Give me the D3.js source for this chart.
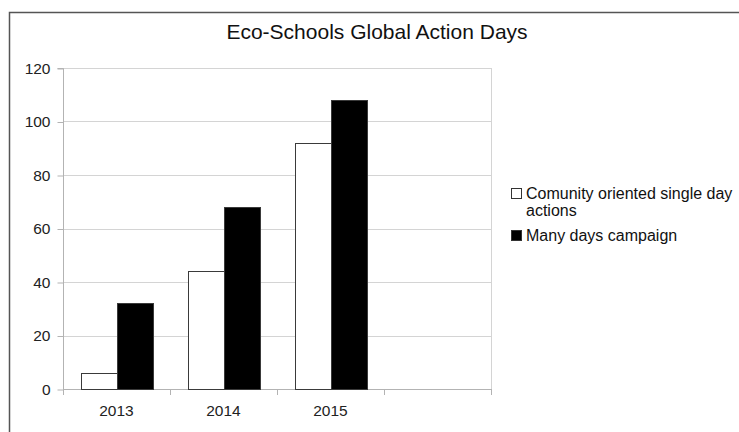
<!DOCTYPE html>
<html>
<head>
<meta charset="utf-8">
<script src="https://cdn.jsdelivr.net/npm/d3@7"></script>
<style>
  body { margin: 0; background: #fff; }
  svg { display: block; font-family: "Liberation Sans", Arial, sans-serif; }
</style>
</head>
<body>
<div id="chart"></div>
<script>
var years = ["2013", "2014", "2015", ""];
var seriesNames = ["Comunity oriented single day actions", "Many days campaign"];
var community = [6, 44, 92, null];
var manyDays = [32, 68, 108, null];
var yTicks = [0, 20, 40, 60, 80, 100, 120];
var colors = ["#ffffff", "#000000"];

var width = 739, height = 432;
var plot = { left: 63, right: 491, top: 68, bottom: 389 };

var svg = d3.select("#chart").append("svg")
    .attr("width", width)
    .attr("height", height);

// outer frame (only top and left visible)
svg.append("path")
    .attr("d", "M9.5,432 V12.5 H739")
    .attr("fill", "none")
    .attr("stroke", "#555")
    .attr("stroke-width", 1.5);

svg.append("text")
    .attr("x", 377)
    .attr("y", 39)
    .attr("text-anchor", "middle")
    .style("font-size", "21px")
    .style("fill", "#111")
    .text("Eco-Schools Global Action Days");

var x = d3.scaleBand().domain(d3.range(years.length)).range([plot.left, plot.right]);
var inner = d3.scaleBand().domain([0, 1]).range([0, x.bandwidth()]).paddingOuter(0.5).paddingInner(0);
var y = d3.scaleLinear().domain([0, 120]).range([plot.bottom, plot.top]);

// gridlines
svg.append("g").selectAll("line")
    .data(yTicks)
    .enter().append("line")
    .attr("x1", plot.left).attr("x2", plot.right)
    .attr("y1", function(d) { return Math.round(y(d)) + 0.5; })
    .attr("y2", function(d) { return Math.round(y(d)) + 0.5; })
    .attr("stroke", "#d4d4d4");

// right edge of plot
svg.append("line")
    .attr("x1", plot.right + 0.5).attr("x2", plot.right + 0.5)
    .attr("y1", plot.top).attr("y2", plot.bottom)
    .attr("stroke", "#d4d4d4");

// y axis
var yAxis = svg.append("g")
    .attr("transform", "translate(" + (plot.left + 0.5) + ",0.5)")
    .call(d3.axisLeft(y).tickValues(yTicks).tickSize(6).tickPadding(7));
yAxis.attr("font-family", null);
yAxis.select(".domain").attr("stroke", "#b3b3b3").attr("d", "M-6," + plot.top + "H0V" + plot.bottom);
yAxis.selectAll(".tick line").attr("stroke", "#b3b3b3");
yAxis.selectAll(".tick text").style("font-size", "15.5px").style("fill", "#222");

// x axis
var tickPos = d3.range(years.length + 1).map(function(i) { return plot.left + i * x.step(); });
var xg = svg.append("g");
xg.append("line")
    .attr("x1", plot.left).attr("x2", plot.right)
    .attr("y1", plot.bottom + 0.5).attr("y2", plot.bottom + 0.5)
    .attr("stroke", "#b3b3b3");
xg.selectAll("line.tk")
    .data(tickPos)
    .enter().append("line")
    .attr("class", "tk")
    .attr("x1", function(d) { return Math.round(d) + 0.5; })
    .attr("x2", function(d) { return Math.round(d) + 0.5; })
    .attr("y1", plot.bottom).attr("y2", plot.bottom + 6)
    .attr("stroke", "#b3b3b3");
xg.selectAll("text")
    .data(years)
    .enter().append("text")
    .attr("x", function(d, i) { return x(i) + x.bandwidth() / 2; })
    .attr("y", 416)
    .attr("text-anchor", "middle")
    .style("font-size", "15.5px")
    .style("fill", "#222")
    .text(function(d) { return d; });

// bars
var series = [community, manyDays];
series.forEach(function(vals, s) {
    svg.append("g").selectAll("rect")
        .data(vals)
        .enter().filter(function(d) { return d != null; })
        .append("rect")
        .attr("x", function(d, i) { return Math.round(x(i) + inner(s)) + 0.5; })
        .attr("y", function(d) { return Math.round(y(d)) + 0.5; })
        .attr("width", Math.round(inner.bandwidth()))
        .attr("height", function(d) { return Math.round(y(0)) - Math.round(y(d)); })
        .attr("fill", colors[s])
        .attr("stroke", "#3a3a3a")
        .attr("stroke-width", 1);
});

// legend
var legendLines = [["Comunity oriented single day", "actions"], ["Many days campaign"]];
var legendY = [188, 230];
legendLines.forEach(function(lines, i) {
    var g = svg.append("g").attr("transform", "translate(511," + legendY[i] + ")");
    g.append("rect")
        .attr("x", 0.5).attr("y", 0.5)
        .attr("width", 10).attr("height", 10)
        .attr("fill", colors[i])
        .attr("stroke", "#333");
    lines.forEach(function(t, j) {
        g.append("text")
            .attr("x", 15)
            .attr("y", 11 + j * 17)
            .style("font-size", "16px")
            .style("fill", "#111")
            .text(t);
    });
});
</script>
</body>
</html>
